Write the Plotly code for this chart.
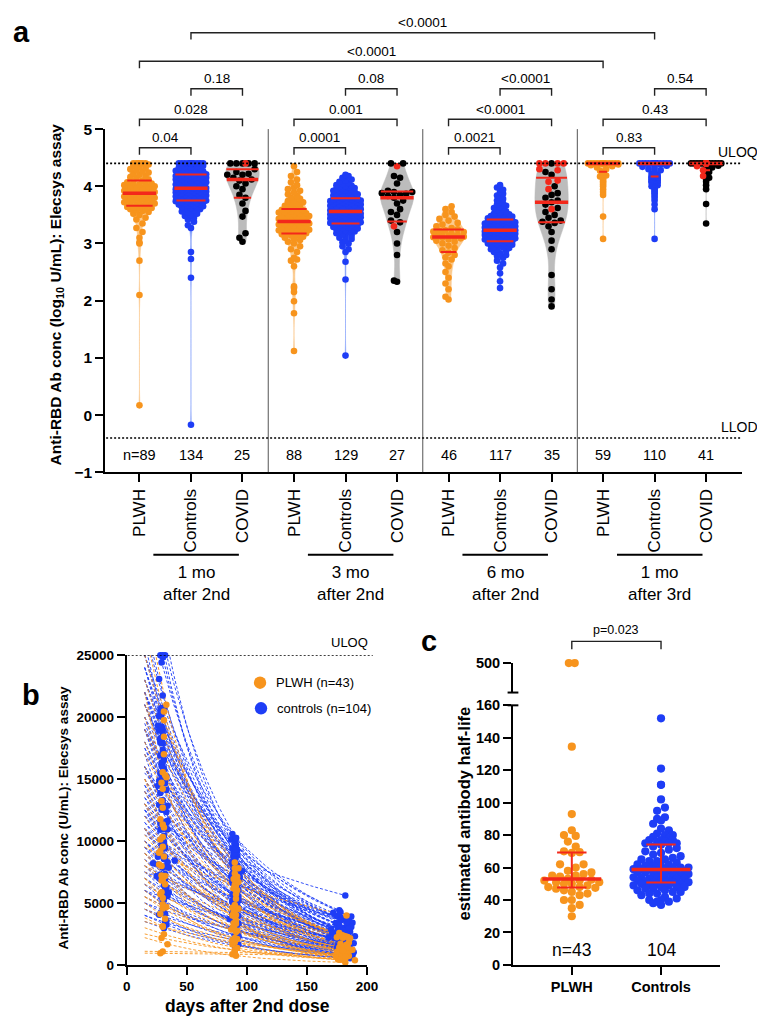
import numpy as np
import plotly.graph_objects as go

W, H = 765, 1019
FONT = "Liberation Sans, Arial, Helvetica, sans-serif"
ORANGE = "#F7941D"
BLUE = "#1E3DF6"
RED = "#F3281B"
BLACK = "#000000"
ORANGE_FILL = "rgba(251,196,130,0.9)"
BLUE_FILL = "rgba(120,150,250,0.9)"
GRAY_FILL = "rgba(188,188,188,1)"

# ---------------- Panel a: anti-RBD (log10 U/mL) ----------------
PLWH_1MO = [0.17, 2.1, 2.7, 3.0, 3.02, 3.1, 3.2, 3.27, 3.35, 3.42, 3.45, 3.5, 3.52, 3.55, 3.57, 3.58, 3.6, 3.6, 3.62, 3.62, 3.63, 3.64,
            3.66, 3.67, 3.68, 3.7, 3.71, 3.72, 3.73, 3.74, 3.75, 3.76, 3.77, 3.78, 3.79, 3.8, 3.8, 3.81, 3.82, 3.83, 3.84, 3.85, 3.86, 3.87,
            3.88, 3.89, 3.9, 3.9, 3.91, 3.92, 3.93, 3.94, 3.95, 3.95, 3.96, 3.97, 3.98, 3.99, 4.0, 4.01, 4.02, 4.03, 4.04, 4.05, 4.06, 4.07,
            4.1, 4.12, 4.14, 4.16, 4.18, 4.2, 4.22, 4.24, 4.26, 4.28, 4.3, 4.32, 4.34, 4.36, 4.38, 4.4, 4.4, 4.4, 4.4, 4.4, 4.4, 4.4, 4.4]
CTRL_1MO = [-0.17, 2.4, 2.73, 2.85, 3.27, 3.32, 3.38, 3.42, 3.45, 3.48, 3.5, 3.52, 3.54, 3.56, 3.58, 3.6, 3.61, 3.62, 3.63, 3.64,
            3.65, 3.66, 3.67, 3.68, 3.69, 3.7, 3.7, 3.71, 3.72, 3.72, 3.73, 3.74, 3.74,
            3.75, 3.76, 3.77, 3.77, 3.78, 3.79, 3.8, 3.8, 3.81, 3.82, 3.83, 3.83, 3.84, 3.85, 3.85, 3.86, 3.87, 3.87, 3.88, 3.89,
            3.89, 3.9, 3.9, 3.91, 3.92, 3.92, 3.93, 3.93, 3.94, 3.94, 3.95, 3.95, 3.96, 3.96,
            3.97, 3.98, 3.99, 4.0, 4.0, 4.01, 4.02, 4.03, 4.04, 4.05, 4.06, 4.07, 4.08, 4.09, 4.1, 4.1, 4.11, 4.12, 4.12, 4.13,
            4.14, 4.14, 4.15, 4.16, 4.16, 4.17, 4.17, 4.18, 4.18, 4.19, 4.19, 4.2, 4.2,
            4.21, 4.22, 4.23, 4.24, 4.25, 4.26, 4.27, 4.28, 4.29, 4.3, 4.31, 4.32, 4.33, 4.34, 4.35, 4.36, 4.37, 4.38, 4.39,
            4.4, 4.4, 4.4, 4.4, 4.4, 4.4, 4.4, 4.4, 4.4, 4.4, 4.4, 4.4, 4.4, 4.4, 4.4]
COVID_1MO_BLACK = [3.03, 3.1, 3.18, 3.47, 3.57, 3.7, 3.8, 3.85, 3.95, 4.0, 4.05, 4.1, 4.12, 4.15, 4.2, 4.2, 4.22, 4.25, 4.3,
                   4.4, 4.4, 4.4, 4.4, 4.4]
COVID_1MO_RED = [4.4]

PLWH_3MO = [1.12, 1.78, 1.99, 2.15, 2.22, 2.25, 2.6, 2.7, 2.72, 2.75, 2.85, 2.9, 2.95, 3.0, 3.03, 3.06, 3.08, 3.1, 3.12, 3.14, 3.15, 3.16,
            3.18, 3.19, 3.2, 3.21, 3.22, 3.23, 3.24, 3.25, 3.26, 3.27, 3.28, 3.29, 3.3, 3.31, 3.32, 3.33, 3.34, 3.35, 3.36, 3.37, 3.37, 3.38,
            3.39, 3.4, 3.41, 3.42, 3.43, 3.44, 3.45, 3.46, 3.47, 3.48, 3.49, 3.5, 3.51, 3.52, 3.53, 3.54, 3.55, 3.56, 3.57, 3.58, 3.59, 3.6,
            3.62, 3.64, 3.66, 3.68, 3.7, 3.72, 3.74, 3.76, 3.78, 3.8, 3.83, 3.86, 3.89, 3.92, 3.95, 3.98, 4.02, 4.07, 4.12, 4.18, 4.25, 4.35]
CTRL_3MO = [1.04, 2.37, 2.68, 2.85, 2.9, 2.95, 3.0, 3.02, 3.05, 3.08, 3.1, 3.12, 3.14, 3.16, 3.18, 3.2, 3.21, 3.22, 3.23, 3.24,
            3.25, 3.26, 3.27, 3.28, 3.29, 3.3, 3.31, 3.31, 3.32, 3.33, 3.34, 3.34,
            3.35, 3.36, 3.37, 3.37, 3.38, 3.39, 3.4, 3.4, 3.41, 3.42, 3.43, 3.43, 3.44, 3.45, 3.46, 3.46, 3.47, 3.48, 3.49, 3.49,
            3.5, 3.5, 3.51, 3.51, 3.52, 3.52, 3.53, 3.53, 3.54, 3.54, 3.55, 3.55, 3.56,
            3.57, 3.58, 3.59, 3.6, 3.6, 3.61, 3.62, 3.63, 3.64, 3.64, 3.65, 3.66, 3.67, 3.67, 3.68, 3.69, 3.7, 3.7, 3.71, 3.72,
            3.72, 3.73, 3.74, 3.74, 3.75, 3.75, 3.76, 3.76, 3.77, 3.77, 3.78, 3.79,
            3.8, 3.8, 3.81, 3.82, 3.83, 3.84, 3.85, 3.86, 3.87, 3.88, 3.89, 3.9, 3.91, 3.92, 3.93, 3.94, 3.95, 3.96, 3.97, 3.98,
            3.99, 4.0, 4.01, 4.02, 4.04, 4.06, 4.08, 4.1, 4.12, 4.15, 4.18, 4.2]
COVID_3MO_BLACK = [2.33, 2.35, 2.8, 3.0, 3.2, 3.37, 3.4, 3.5, 3.55, 3.6, 3.7, 3.75, 3.8, 3.83, 3.85, 3.87, 3.88, 3.9, 3.9, 3.92,
                   4.05, 4.15, 4.18, 4.4, 4.4]
COVID_3MO_RED = [3.3, 4.35]

PLWH_6MO = [2.02, 2.07, 2.2, 2.3, 2.4, 2.5, 2.6, 2.65, 2.72, 2.76, 2.8,
            2.84, 2.88, 2.92, 2.96, 3.0, 3.03, 3.05, 3.07, 3.09, 3.1, 3.11, 3.11,
            3.12, 3.13, 3.14, 3.15, 3.16, 3.17, 3.18, 3.2, 3.21, 3.22, 3.23, 3.25,
            3.27, 3.3, 3.33, 3.36, 3.4, 3.43, 3.47, 3.5, 3.55, 3.6, 3.65]
CTRL_6MO = [2.22, 2.34, 2.48, 2.58, 2.65, 2.7, 2.75, 2.78, 2.8, 2.83, 2.85, 2.87, 2.89, 2.9, 2.92, 2.93, 2.94, 2.95, 2.96, 2.97,
            2.98, 2.99, 3.0, 3.0, 3.01, 3.02, 3.02, 3.03, 3.03,
            3.04, 3.05, 3.06, 3.07, 3.08, 3.09, 3.1, 3.1, 3.11, 3.12, 3.13, 3.13, 3.14, 3.15, 3.15, 3.16, 3.17, 3.17, 3.18, 3.18,
            3.19, 3.19, 3.2, 3.2, 3.21, 3.21, 3.22, 3.22, 3.23, 3.23,
            3.24, 3.25, 3.25, 3.26, 3.27, 3.28, 3.28, 3.29, 3.3, 3.3, 3.31, 3.32, 3.33, 3.33, 3.34, 3.35, 3.35, 3.36, 3.37, 3.37,
            3.38, 3.38, 3.39, 3.39, 3.4, 3.4, 3.41, 3.41, 3.42,
            3.43, 3.44, 3.45, 3.46, 3.47, 3.48, 3.49, 3.5, 3.51, 3.52, 3.54, 3.56, 3.58, 3.6, 3.62, 3.64, 3.66, 3.68, 3.7, 3.72,
            3.75, 3.78, 3.81, 3.84, 3.87, 3.9, 3.94, 3.98, 4.02]
COVID_6MO_BLACK = [1.9, 2.02, 2.2, 2.45, 2.9, 3.05, 3.2, 3.3, 3.36, 3.38, 3.4, 3.45, 3.5, 3.55, 3.62, 3.68, 3.72, 3.75, 3.8,
                   3.85, 3.88, 4.0, 4.2, 4.25, 4.4]
COVID_6MO_RED = [4.4, 4.4, 4.4, 4.4, 4.3, 4.28, 4.1, 4.08, 3.95, 3.6]

PLWH_3RD = [3.08, 3.47, 3.85, 3.9, 3.95, 4.0, 4.03, 4.06, 4.09, 4.12, 4.15, 4.17, 4.19, 4.21, 4.24, 4.27, 4.3, 4.33, 4.35, 4.37,
            4.38, 4.39] + [4.4] * 37
CTRL_3RD = [3.08, 3.6, 3.68, 3.75, 3.8, 3.84, 3.88, 3.9, 3.93, 3.96, 3.98, 4.0, 4.02, 4.04, 4.06, 4.07, 4.08, 4.09, 4.1, 4.11,
            4.12, 4.13, 4.14, 4.15, 4.15, 4.16, 4.16, 4.17, 4.18, 4.2, 4.22, 4.25, 4.28, 4.3, 4.32, 4.34, 4.36, 4.38] + [4.4] * 72
COVID_3RD_BLACK = [3.35, 3.69, 3.95, 4.02, 4.08, 4.12, 4.15, 4.2, 4.25, 4.3, 4.33, 4.36] + [4.4] * 15
COVID_3RD_RED = [4.18, 4.28, 4.35] + [4.4] * 11

GROUP_NAMES = ["PLWH", "Controls", "COVID"]
TIMEPOINT_LABELS = ["1 mo<br>after 2nd", "3 mo<br>after 2nd", "6 mo<br>after 2nd", "1 mo<br>after 3rd"]
A_YTICKS = [-1, 0, 1, 2, 3, 4, 5]
ULOQ_LOG = 4.4
LLOD_LOG = -0.4
# (group from, group to, p-value label, bracket level)
BRACKETS = [
    (0, 1, "0.04", 0), (3, 4, "0.0001", 0), (6, 7, "0.0021", 0), (9, 10, "0.83", 0),
    (0, 2, "0.028", 1), (3, 5, "0.001", 1), (6, 8, "<0.0001", 1), (9, 11, "0.43", 1),
    (1, 2, "0.18", 2), (4, 5, "0.08", 2), (7, 8, "<0.0001", 2), (10, 11, "0.54", 2),
    (0, 9, "<0.0001", 3), (1, 10, "<0.0001", 4),
]

# ---------------- Panel c: estimated half-life (days) ----------------
HALF_LIFE_PLWH = [500, 500, 134.5, 93, 83, 80, 79.5, 76, 73, 70, 69.5, 69, 62, 62, 60, 58, 57, 56, 55, 55, 54.5, 53, 52.5,
                  52, 52, 51, 51, 50, 50, 49, 48, 48, 47.5, 47, 46, 45, 44, 43, 40, 40, 37, 35, 30]
HALF_LIFE_CTRL = [152, 121, 111, 111, 102, 97, 95, 91, 90, 89, 87, 84, 83, 81, 80, 80, 79, 78, 77, 77, 77, 76, 76, 75, 75, 75,
                  74, 73, 72, 71, 70, 69, 68, 67, 66, 65, 65, 64, 64, 63, 62, 62, 61, 61, 61, 60, 60, 60, 59, 59, 59, 59,
                  58.5, 58, 58, 58, 57, 57, 57, 56, 56, 55, 55, 55, 54, 54, 54, 53, 53, 53, 52, 52, 52, 51.5, 51, 51, 51, 51,
                  50, 50, 50, 49, 49, 49, 48, 48, 48, 47, 47, 46, 46, 45, 45, 44, 44, 43, 42, 41, 40, 40, 39, 39, 38, 37]
C_CATEGORIES = ["PLWH", "Controls"]
C_YTICKS = [0, 20, 40, 60, 80, 100, 120, 140, 160]
C_BREAK_TICK = 500

# ---------------- Panel b: fitted decay per subject ----------------
# Anti-RBD (U/mL) at day 15 of each fitted curve (same subject order as the half-life lists)
START_PLWH = [1100, 950, 9500, 8000, 7500, 3500, 9000, 5500, 11000, 2500,
              13000, 6500, 15000, 4500, 8000, 17000, 3000, 10500, 5500, 19000,
              7000, 12000, 21000, 3800, 9000, 16000, 6000, 23000, 11000, 14000,
              2200, 18000, 8500, 25000, 5000, 13000, 20000, 10000, 27000, 7000,
              15000, 30000, 22000]
START_CTRL = [12000, 7500, 10500, 6000, 11000, 8000, 12500, 5000, 9500, 13000,
              14000, 6500, 10000, 15500, 8500, 4500, 12000, 17000, 7000, 11000,
              19000, 5500, 13500, 9000, 16000, 4000, 11500, 20000, 7500, 14500,
              10000, 22000, 6000, 17500, 12500, 3500, 21000, 8000, 15000, 19000,
              9500, 21000, 13000, 5000, 23000, 16000, 7000, 11000, 25000, 18000,
              4000, 12000, 22000, 8500, 19000, 14000, 6000, 21000, 10000, 24000,
              16000, 7500, 22000, 11500, 18000, 4500, 23000, 13500, 19500, 9000,
              20000, 15000, 25000, 6500, 24000, 11000, 21000, 17500, 8000, 23000,
              14000, 12500, 22000, 19000, 27000, 9500, 16000, 30000, 14500, 20000,
              25000, 33000, 16000, 24000, 11000, 28000, 19000, 32000, 13000, 26000,
              22000, 36000, 17000, 34000]
DAY1_PLWH = [30, 28, 31, 29, 32, 30, 27, 33, 30, 29, 31, 28, 30, 32, 29, 30, 31, 27, 30, 33,
             29, 28, 31, 30, 32, 29, 30, 31, 28, 30, 34, 29, 30, 31, 28, 30, 32, 29, 31, 30, 28, 33, 30]
DAY2_PLWH = [90, 88, 91, 92, 89, 90, 93, 87, 91, 90, 92, 89, 90, 88, 91, 93, 90, 89, 92, 90,
             91, 88, 90, 92, 89, 91, 90, 93, 88, 90, 91, 89, 92, 90, 88, 91, 90, 89, 92, 90, 91, 89, 90]
DAY3_PLWH = [180, 176, 183, 178, 185, 181, 175, 184, 179, 182, 177, 186, 180, 174, 183, 179, 181, 188, 176, 182,
             180, 178, 184, 181, 175, 183, 179, 186, 180, 177, 182, 178, 185, 180, 176, 183, 181, 179, 184, 178,
             182, 180, 190]
DAY1_CTRL = [30, 27, 32, 29, 31, 28, 33, 30, 26, 31, 29, 34, 30, 28, 32, 27, 31, 30, 35, 29,
             28, 31, 33, 30, 26, 32, 29, 30, 31, 27, 34, 29, 30, 32, 28, 31, 30, 25, 33, 29,
             31, 28, 30, 32, 27, 34, 30, 29, 31, 28, 33, 30, 26, 32, 29, 31, 30, 28, 35, 29,
             30, 32, 27, 31, 29, 33, 30, 28, 31, 22, 30, 34, 29, 31, 28, 32, 30, 27, 33, 30,
             29, 31, 28, 32, 30, 26, 31, 29, 34, 30, 28, 32, 30, 29, 31, 27, 33, 30, 40, 29,
             31, 28, 32, 30]
DAY2_CTRL = [90, 92, 88, 91, 89, 93, 90, 87, 91, 94, 89, 90, 92, 88, 91, 90, 93, 89, 86, 91,
             90, 92, 89, 91, 88, 90, 93, 91, 89, 92, 90, 88, 91, 96, 89, 90, 92, 91, 88, 90,
             93, 89, 91, 90, 87, 92, 90, 89, 91, 94, 90, 88, 92, 91, 89, 90, 93, 90, 88, 91,
             92, 89, 90, 91, 87, 93, 90, 89, 92, 90, 91, 88, 90, 93, 89, 91, 90, 92, 88, 90,
             91, 89, 92, 90, 88, 91, 93, 90, 89, 92, 90, 91, 88, 90, 92, 89, 91, 90, 93, 88,
             90, 91, 89, 92]
DAY3_CTRL = [182, 176, 185, 179, 188, 174, 181, 184, 170, 186, 178, 183, 190, 175, 181, 179, 186, 172, 183, 180,
             177, 185, 181, 168, 184, 179, 182, 187, 176, 180, 183, 178, 189, 174, 181, 185, 179, 182, 176, 184,
             180, 187, 173, 182, 178, 185, 181, 179, 183, 176, 186, 180, 177, 184, 181, 189, 175, 182, 179, 185,
             178, 183, 180, 176, 186, 181, 179, 184, 171, 182, 185, 178, 180, 183, 177, 186, 181, 179, 184, 180,
             176, 182, 185, 178, 181, 188, 179, 183, 175, 180, 184, 181, 177, 186, 180, 182, 179, 185, 178, 183,
             181, 176, 184, 180]
FIT_START_DAY = 15
ULOQ_U = 25000
B_XTICKS = [0, 50, 100, 150, 200]
B_YTICKS = [0, 5000, 10000, 15000, 20000, 25000]


# ---------------- helpers ----------------
def py(p):
    return 1 - p / H


def pxx(p):
    return p / W


def bandwidth(v):
    v = np.asarray(v, float)
    sd = v.std(ddof=1)
    q1, q3 = np.percentile(v, [25, 75])
    s = min(sd, (q3 - q1) / 1.349) if q3 > q1 else sd
    return 1.059 * s * len(v) ** -0.2


def density(v, y, bw):
    v = np.asarray(v, float)
    y = np.atleast_1d(np.asarray(y, float))
    return np.exp(-0.5 * ((y[:, None] - v[None, :]) / bw) ** 2).sum(1)


def make_bound(v, bw, hw):
    grid = np.linspace(min(v), max(v), 300)
    dmax = density(v, grid, bw).max()
    return (lambda y: hw * density(v, y, bw)[0] / dmax), dmax


def swarm(values, xs, ys, diam, bound_fn):
    v = np.asarray(values, float)
    order = np.argsort(v, kind="stable")
    pxs, pys = [], []
    off = np.zeros(len(v))
    step = diam / 2.0
    for j, i in enumerate(order):
        y = v[i] * ys
        b = bound_fn(v[i]) + 1.0
        cands = [0.0]
        k = 1
        while k * step <= b:
            cands += [k * step, -k * step] if j % 2 == 0 else [-k * step, k * step]
            k += 1
        ax = np.array(pxs)
        ay = np.array(pys)
        if len(ax):
            near = np.abs(ay - y) < diam
            ax, ay = ax[near], ay[near]
        best, bestd = 0.0, -1.0
        for c in cands:
            d = np.inf if len(ax) == 0 else np.min(np.hypot(ax - c, ay - y))
            if d >= diam:
                best = c
                break
            if d > bestd:
                bestd, best = d, c
        pxs.append(best)
        pys.append(y)
        off[i] = best
    return off / xs


def ann(text, x, y, size, xref="paper", yref="paper", xanchor="center", yanchor="middle", angle=0, bold=False):
    return dict(text=text, x=x, y=y, xref=xref, yref=yref, xanchor=xanchor, yanchor=yanchor, showarrow=False,
                textangle=angle, font=dict(family=FONT, size=size, color="black", weight="bold" if bold else "normal"))


fig = go.Figure()
shapes, annotations = [], []

# ---------------- Panel a ----------------
XS_A = 52.545   # px per category
YS_A = (463 - 114) / 6.0
HW_A = 17.0

groups = [
    (PLWH_1MO, []), (CTRL_1MO, []), (COVID_1MO_BLACK, COVID_1MO_RED),
    (PLWH_3MO, []), (CTRL_3MO, []), (COVID_3MO_BLACK, COVID_3MO_RED),
    (PLWH_6MO, []), (CTRL_6MO, []), (COVID_6MO_BLACK, COVID_6MO_RED),
    (PLWH_3RD, []), (CTRL_3RD, []), (COVID_3RD_BLACK, COVID_3RD_RED),
]
kinds = [0, 1, 2] * 4
fills = [ORANGE_FILL, BLUE_FILL, GRAY_FILL]
pcolors = [ORANGE, BLUE, BLACK]

med_x, med_y, q_x, q_y = [], [], [], []
pt_traces = []
for i, (base, reds) in enumerate(groups):
    vals = np.array(list(base) + list(reds), float)
    cols = [pcolors[kinds[i]]] * len(base) + [RED] * len(reds)
    bw = bandwidth(vals)
    bound, dmax = make_bound(vals, bw, HW_A)
    fig.add_trace(go.Violin(
        x=np.full(len(vals), i), y=vals, xaxis="x", yaxis="y", width=2 * HW_A / XS_A, scalemode="width",
        spanmode="hard", bandwidth=bw, fillcolor=fills[kinds[i]], line=dict(color=fills[kinds[i]], width=0.5),
        points=False, box_visible=False, meanline_visible=False, hoverinfo="skip", showlegend=False, opacity=1))
    off = swarm(vals, XS_A, YS_A, 6.2, bound)
    pt_traces.append(go.Scatter(x=i + off, y=vals, mode="markers", xaxis="x", yaxis="y", cliponaxis=False,
                                marker=dict(size=6.6, color=cols, line=dict(width=0)), hoverinfo="skip",
                                showlegend=False))
    q1, q2, q3 = np.percentile(vals, [25, 50, 75])
    for q, tx, ty in ((q1, q_x, q_y), (q3, q_x, q_y), (q2, med_x, med_y)):
        hw = max(bound(q), 4.0) / XS_A
        tx += [i - hw, i + hw, None]
        ty += [q, q, None]

for t in pt_traces:
    fig.add_trace(t)
fig.add_trace(go.Scatter(x=q_x, y=q_y, mode="lines", xaxis="x", yaxis="y", line=dict(color=RED, width=2),
                         hoverinfo="skip", showlegend=False, cliponaxis=False))
fig.add_trace(go.Scatter(x=med_x, y=med_y, mode="lines", xaxis="x", yaxis="y", line=dict(color=RED, width=3.5),
                         hoverinfo="skip", showlegend=False, cliponaxis=False))

# dividers
for xd in (2.5, 5.5, 8.5):
    shapes.append(dict(type="line", xref="x", yref="y", x0=xd, x1=xd, y0=-1, y1=5, line=dict(color="#555", width=1)))
# ULOQ / LLOD
for yv in (ULOQ_LOG, LLOD_LOG):
    shapes.append(dict(type="line", xref="paper", yref="y", x0=pxx(96), x1=pxx(743), y0=yv, y1=yv,
                       line=dict(color="black", width=1.6, dash="2px,2px")))
annotations.append(ann("ULOQ", pxx(763), py(137), 14, xanchor="right"))
annotations.append(ann("LLOD", pxx(763), py(417), 14, xanchor="right"))

# n labels
for i, (base, reds) in enumerate(groups):
    n = len(base) + len(reds)
    annotations.append(ann(("n=%d" % n) if i == 0 else str(n), i, -0.69, 14.5, xref="x", yref="y"))

# brackets
LEVEL_PX = [133, 104, 73, 45, 16]
for g0, g1, lab, lev in BRACKETS:
    yp = LEVEL_PX[lev]
    shapes.append(dict(type="path", xref="x", yref="paper",
                       path="M %f,%f L %f,%f L %f,%f L %f,%f" % (g0, py(yp + 7), g0, py(yp), g1, py(yp), g1, py(yp + 7)),
                       line=dict(color="#222", width=1.4)))
    annotations.append(ann(lab, (g0 + g1) / 2, py(yp - 10), 13.5, xref="x"))

# timepoint group labels
for k, lab in enumerate(TIMEPOINT_LABELS):
    c = 3 * k + 1 + 0.1
    shapes.append(dict(type="line", xref="x", yref="paper", x0=c - 0.83, x1=c + 0.83, y0=py(547), y1=py(547),
                       line=dict(color="black", width=2)))
    annotations.append(ann(lab, c, py(576), 17, xref="x"))

annotations.append(ann("Anti-RBD Ab conc (log<sub>10</sub> U/mL): Elecsys assay", pxx(45), py(282), 15.5,
                       angle=-90, bold=True))
annotations.append(ann("a", pxx(10), py(15), 29, bold=True))

# ---------------- Panel b ----------------
def curves(starts, hls, d3s):
    xs_, ys_ = [], []
    for a, hl, d3 in zip(starts, hls, d3s):
        t = np.append(np.arange(FIT_START_DAY, d3, 2.0), d3)
        xs_ += list(t) + [None]
        ys_ += list(a * 0.5 ** ((t - FIT_START_DAY) / hl)) + [None]
    return xs_, ys_


def visits(starts, hls, days_lists):
    xs_, ys_ = [], []
    for days in days_lists:
        for a, hl, d in zip(starts, hls, days):
            xs_.append(d)
            ys_.append(min(a * 0.5 ** ((d - FIT_START_DAY) / hl), ULOQ_U))
    return xs_, ys_


cx, cy = curves(START_CTRL, HALF_LIFE_CTRL, DAY3_CTRL)
fig.add_trace(go.Scatter(x=cx, y=cy, mode="lines", xaxis="x2", yaxis="y2", line=dict(color=BLUE, width=0.9, dash="3px,2px"),
                         hoverinfo="skip", showlegend=False))
cx, cy = curves(START_PLWH, HALF_LIFE_PLWH, DAY3_PLWH)
fig.add_trace(go.Scatter(x=cx, y=cy, mode="lines", xaxis="x2", yaxis="y2", line=dict(color=ORANGE, width=0.9, dash="3px,2px"),
                         hoverinfo="skip", showlegend=False))
vx, vy = visits(START_CTRL, HALF_LIFE_CTRL, (DAY1_CTRL, DAY2_CTRL, DAY3_CTRL))
fig.add_trace(go.Scatter(x=vx, y=vy, mode="markers", xaxis="x2", yaxis="y2", cliponaxis=False,
                         marker=dict(size=6.5, color=BLUE), hoverinfo="skip", showlegend=False))
vx, vy = visits(START_PLWH, HALF_LIFE_PLWH, (DAY1_PLWH, DAY2_PLWH, DAY3_PLWH))
fig.add_trace(go.Scatter(x=vx, y=vy, mode="markers", xaxis="x2", yaxis="y2", cliponaxis=False,
                         marker=dict(size=6.5, color=ORANGE), hoverinfo="skip", showlegend=False))

shapes.append(dict(type="line", xref="paper", yref="y2", x0=pxx(118), x1=pxx(368), y0=ULOQ_U, y1=ULOQ_U,
                   line=dict(color="black", width=1.6, dash="2px,2px")))
annotations.append(ann("ULOQ", pxx(365), py(636), 13, xanchor="right"))
# legend
for (cxp, cyp), col, lab in (((253, 677), ORANGE, "PLWH (n=%d)" % len(HALF_LIFE_PLWH)),
                             ((254, 703), BLUE, "controls (n=%d)" % len(HALF_LIFE_CTRL))):
    r = 6.3
    shapes.append(dict(type="circle", xref="paper", yref="paper", x0=pxx(cxp - r), x1=pxx(cxp + r),
                       y0=py(cyp + r), y1=py(cyp - r), fillcolor=col, line=dict(width=0)))
    annotations.append(ann(lab, pxx(cxp + 14), py(cyp), 13, xanchor="left"))
annotations.append(ann("Anti-RBD Ab conc (U/mL): Elecsys assay", pxx(52), py(814), 13.5, angle=-90, bold=True))
annotations.append(ann("days after 2nd dose", pxx(240), py(1006), 17.5, bold=True))
annotations.append(ann("b", pxx(19), py(690), 29, bold=True))

# ---------------- Panel c ----------------
XS_C = 91.0
YS_C = (964 - 700) / 160.0
HW_C = 30.0
for i, (vals, col) in enumerate(((HALF_LIFE_PLWH, ORANGE), (HALF_LIFE_CTRL, BLUE))):
    v = np.array(vals, float)
    low = v[v <= 160]
    high = v[v > 160]
    bw = bandwidth(low)
    bound, _ = make_bound(low, bw, HW_C)
    off = swarm(low, XS_C, YS_C, 8.0, bound)
    fig.add_trace(go.Scatter(x=i + off, y=low, mode="markers", xaxis="x3", yaxis="y3", cliponaxis=False,
                             marker=dict(size=8.2, color=col), hoverinfo="skip", showlegend=False))
    if len(high):
        offh = swarm(high, XS_C, 1.0, 6.0, lambda y: 6.0)
        fig.add_trace(go.Scatter(x=i + offh - offh.mean(), y=high, mode="markers", xaxis="x3", yaxis="y4",
                                 cliponaxis=False, marker=dict(size=8.2, color=col), hoverinfo="skip",
                                 showlegend=False))
    q1, q2, q3 = np.percentile(v, [25, 50, 75])
    fig.add_trace(go.Scatter(x=[i - 0.165, i + 0.165, None, i, i, None, i - 0.165, i + 0.165],
                             y=[q1, q1, None, q1, q3, None, q3, q3], mode="lines", xaxis="x3", yaxis="y3",
                             line=dict(color=RED, width=2), hoverinfo="skip", showlegend=False, cliponaxis=False))
    fig.add_trace(go.Scatter(x=[i - 0.33, i + 0.33], y=[q2, q2], mode="lines", xaxis="x3", yaxis="y3",
                             line=dict(color=RED, width=3.5), hoverinfo="skip", showlegend=False, cliponaxis=False))
    n = len(v)
    annotations.append(ann(("n=%d" % n) if i == 0 else str(n), i, 9.3, 17.5, xref="x3", yref="y3"))

# break marks
for yb in (687, 700):
    shapes.append(dict(type="line", xref="paper", yref="paper", x0=pxx(505.5), x1=pxx(516.5), y0=py(yb), y1=py(yb),
                       line=dict(color="black", width=2)))
# bracket
shapes.append(dict(type="path", xref="x3", yref="paper",
                   path="M 0,%f L 0,%f L 1,%f L 1,%f" % (py(643), py(635), py(635), py(643)),
                   line=dict(color="#222", width=1.4)))
annotations.append(ann("p=0.023", 0.5, py(623), 12.5, xref="x3"))
annotations.append(ann("estimated antibody half-life", pxx(462), py(810), 16.5, angle=-90, bold=True))
annotations.append(ann("c", pxx(425), py(635), 29, bold=True))

# ---------------- axes ----------------
axis_common = dict(showgrid=False, zeroline=False, showline=True, linecolor="black", linewidth=2, ticks="outside",
                   ticklen=8, tickwidth=2, tickcolor="black")
bold_tick = lambda s: dict(family=FONT, size=s, color="black", weight="bold")

fig.update_layout(
    width=W, height=H, margin=dict(l=0, r=0, t=0, b=0), paper_bgcolor="white", plot_bgcolor="white",
    showlegend=False, violinmode="overlay", font=dict(family=FONT, color="black"),
    xaxis=dict(domain=[pxx(95), pxx(745)], range=[(95 - 130) / XS_A, (745 - 130) / XS_A], anchor="y",
               tickmode="array", tickvals=list(range(12)), ticktext=GROUP_NAMES * 4, tickangle=-90,
               tickfont=dict(family=FONT, size=17, color="black"), **axis_common),
    yaxis=dict(domain=[py(463), py(114)], range=[-1, 5], anchor="x", tickmode="array", tickvals=A_YTICKS,
               tickfont=bold_tick(15.5), **axis_common),
    xaxis2=dict(domain=[pxx(117), pxx(362)], range=[0, 200], anchor="y2", tickmode="array", tickvals=B_XTICKS,
                tickfont=bold_tick(13.5), **axis_common),
    yaxis2=dict(domain=[py(964), py(649)], range=[0, 25000], anchor="x2", tickmode="array", tickvals=B_YTICKS,
                ticktext=[str(t) for t in B_YTICKS], tickfont=bold_tick(13.5), **axis_common),
    xaxis3=dict(domain=[pxx(511), pxx(722)], range=[(511 - 571) / XS_C, (722 - 571) / XS_C], anchor="y3",
                tickmode="array", tickvals=[0, 1], ticktext=C_CATEGORIES, tickfont=bold_tick(14.5), **axis_common),
    yaxis3=dict(domain=[py(964), py(700)], range=[0, 160], anchor="x3", tickmode="array", tickvals=C_YTICKS,
                tickfont=bold_tick(14.5), **axis_common),
    yaxis4=dict(domain=[py(687), py(657)], range=[470, 500], anchor="x3", tickmode="array", tickvals=[C_BREAK_TICK],
                tickfont=bold_tick(14.5), **axis_common),
    shapes=shapes, annotations=annotations,
)

fig.write_html("out.html")
